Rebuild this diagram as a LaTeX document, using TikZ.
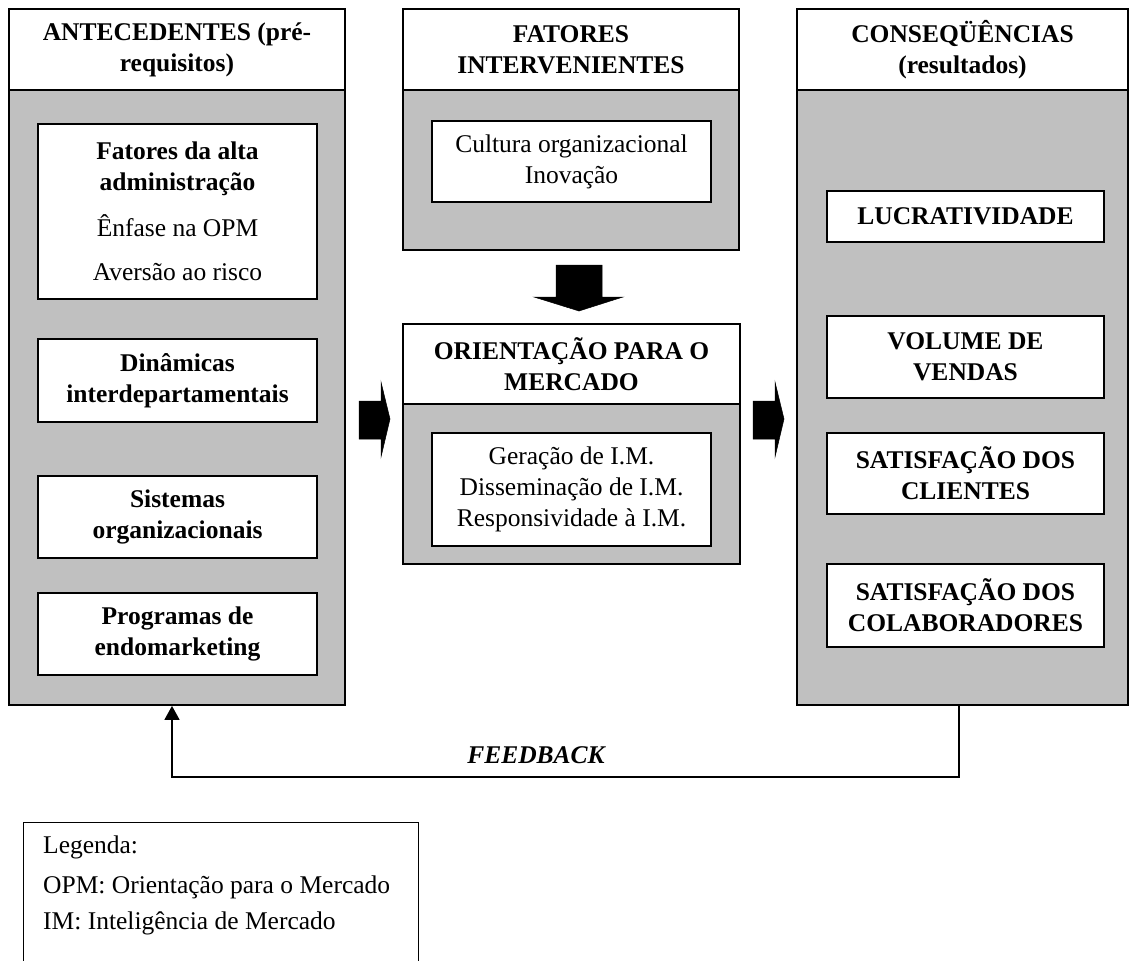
\documentclass[tikz,border=0pt]{standalone}
\usepackage{fontspec}
\setmainfont{Liberation Serif}
\usetikzlibrary{arrows.meta}
\definecolor{panel}{HTML}{C0C0C0}
\begin{document}
\begin{tikzpicture}[x=1pt,y=-1pt,
  every node/.style={font=\fontsize{25.5pt}{31pt}\selectfont, inner sep=0pt, align=center},
  colbody/.style={draw, fill=panel, line width=1.8pt},
  colhead/.style={draw, fill=white, line width=1.8pt, font=\fontsize{25.5pt}{31pt}\selectfont\bfseries},
  itembox/.style={draw, fill=white, line width=1.4pt},
  bolditem/.style={itembox, font=\fontsize{25.5pt}{31pt}\selectfont\bfseries},
  blockarrow/.style={fill=black, draw=black, line width=0.5pt, line join=miter},
  fbline/.style={line width=1.6pt, -{Triangle[length=14pt,width=15pt]}},
  legtext/.style={anchor=west, align=left}
]
\clip (0,0) rectangle (1130,961);
\fill[white] (0,0) rectangle (1130,961);

% ---- left column: antecedentes ----
\node[colbody, minimum width=336pt, minimum height=615pt] (lbody) at (177,397.5) {};
\node[colhead, minimum width=336pt, minimum height=81pt] (lhead) at (177,49.5) {ANTECEDENTES (pré-\\requisitos)};
\node[itembox, minimum width=279pt, minimum height=175pt] (a1) at (177.5,211.5)
  {\textbf{Fatores da alta}\\\textbf{administração}\\[15pt]Ênfase na OPM\\[13pt]Aversão ao risco};
\node[bolditem, minimum width=279pt, minimum height=83pt] (a2) at (177.5,380.5) {Dinâmicas\\interdepartamentais};
\node[bolditem, minimum width=279pt, minimum height=82pt] (a3) at (177.5,517) {Sistemas\\organizacionais};
\node[bolditem, minimum width=279pt, minimum height=82pt] (a4) at (177.5,634) {Programas de\\endomarketing};

% ---- middle top: fatores intervenientes ----
\node[colbody, minimum width=336pt, minimum height=160pt] (fbody) at (571,170) {};
\node[colhead, minimum width=336pt, minimum height=81pt] (fhead) at (571,49.5) {FATORES\\INTERVENIENTES};
\node[itembox, minimum width=279pt, minimum height=81pt] (f1) at (571.5,161.5) {Cultura organizacional\\Inovação};

% ---- middle: orientacao para o mercado ----
\node[colbody, minimum width=337pt, minimum height=160pt] (obody) at (571.5,484) {};
\node[colhead, minimum width=337pt, minimum height=80pt] (ohead) at (571.5,364) {ORIENTAÇÃO PARA O\\MERCADO};
\node[itembox, minimum width=279pt, minimum height=113pt] (o1) at (571.5,489.5) {Geração de I.M.\\Disseminação de I.M.\\Responsividade à I.M.};

% ---- right column: consequencias ----
\node[colbody, minimum width=331pt, minimum height=615pt] (rbody) at (962.5,397.5) {};
\node[colhead, minimum width=331pt, minimum height=81pt] (rhead) at (962.5,49.5) {CONSEQÜÊNCIAS\\(resultados)};
\node[bolditem, minimum width=277pt, minimum height=51pt] (c1) at (965.5,216.5) {LUCRATIVIDADE};
\node[bolditem, minimum width=277pt, minimum height=82pt] (c2) at (965.5,357) {VOLUME DE\\VENDAS};
\node[bolditem, minimum width=277pt, minimum height=81pt] (c3) at (965.5,473.5) {SATISFAÇÃO DOS\\CLIENTES};
\node[bolditem, minimum width=277pt, minimum height=83pt] (c4) at (965.5,605.5) {SATISFAÇÃO DOS\\COLABORADORES};

% ---- block arrows ----
\fill[blockarrow] (556,265) -- (602,265) -- (602,297) -- (623,297) -- (579,311) -- (534,297) -- (556,297) -- cycle;
\fill[blockarrow] (359,401) -- (381,401) -- (381,382) -- (390,419) -- (381,457) -- (381,439) -- (359,439) -- cycle;
\fill[blockarrow] (753,401) -- (775,401) -- (775,382) -- (784,419) -- (775,457) -- (775,439) -- (753,439) -- cycle;

% ---- feedback loop ----
\coordinate (fbturn) at (959,777);
\draw[fbline] ([xshift=-3.5pt]rbody.south) -- (fbturn) -| ([xshift=-5pt]lbody.south);
\node[font=\fontsize{25.5pt}{31pt}\selectfont\bfseries\itshape] (fblabel) at (536,755) {FEEDBACK};

% ---- legend ----
\node[draw, line width=1.4pt, minimum width=395pt, minimum height=200pt, anchor=north west] (legend) at (23,822) {};
\node[legtext] (legt) at (43,847) {Legenda:};
\node[legtext] (leg1) at (43,887) {OPM: Orientação para o Mercado};
\node[legtext] (leg2) at (43,923) {IM: Inteligência de Mercado};
\end{tikzpicture}
\end{document}
